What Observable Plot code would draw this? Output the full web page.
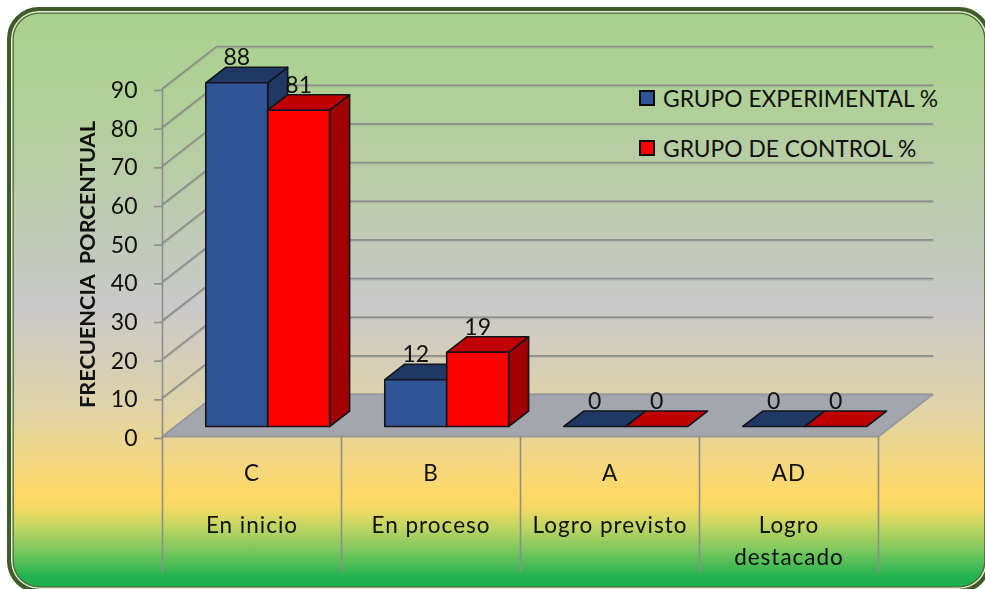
<!DOCTYPE html>
<html>
<head>
<meta charset="utf-8">
<script src="https://cdn.jsdelivr.net/npm/d3@7"></script>
<script src="https://cdn.jsdelivr.net/npm/@observablehq/plot@0.6"></script>
<style>
html,body{margin:0;padding:0;background:#fff;overflow:hidden;width:985px;height:589px}
body{position:relative;font-family:Lato,sans-serif;color:#111}
#box{position:absolute;left:7px;top:7px;width:984px;height:586px;box-sizing:border-box;border-radius:32px;
 border:4.5px solid #3f5b28;
 box-shadow:inset 0 0 0 1.5px #e4eedb,inset 0 0 0 2.8px #4d6b33;
 background:linear-gradient(180deg,#a9d18e 0px,#b0d097 90px,#bccbae 190px,#c9c9c9 295px,#dfd3aa 395px,#ffd966 484px,#f6d864 497px,#c4d662 515px,#7fc85f 538px,#22b24f 566px,#1db04e 578px)}
#chart{position:absolute;left:0;top:0}
#chart svg{background:transparent;overflow:visible;display:block;filter:blur(0.35px)}
.lg{position:absolute;left:638.5px;width:12px;height:12px;border:2px solid #0c0c0c}
.lt{position:absolute;left:663px;font-size:22.8px;line-height:26px;white-space:nowrap}
</style>
</head>
<body>
<div id="box"></div>
<div id="chart"></div>
<div class="lg" style="top:89.5px;background:#2f5597"></div>
<div class="lt" id="l0" style="top:85px"></div>
<div class="lg" style="top:139.5px;background:#ff0000"></div>
<div class="lt" id="l1" style="top:135px"></div>
<script>
const categories = ["C","B","A","AD"];
const categoryNames = [["En inicio"],["En proceso"],["Logro previsto"],["Logro","destacado"]];
const seriesNames = ["GRUPO EXPERIMENTAL %","GRUPO DE CONTROL %"];
const experimental = [88.9,12.1,0,0];
const control = [81.8,19.2,0,0];
const yTicks = [0,10,20,30,40,50,60,70,80,90];
const yLabel = "FRECUENCIA  PORCENTUAL";
const palette = [
  {front:"#2f5597",top:"#1f3864",side:"#1f3864"},
  {front:"#ff0000",top:"#c00000",side:"#a00000"}
];

document.getElementById("l0").textContent = seriesNames[0];
document.getElementById("l1").textContent = seriesNames[1];

// oblique projection, in data units
const wallX = 0.3017, wallY = 10.86;
const barFront = 0.238, barBack = 0.607;
const barStart = 0.17, barWidth = 0.346;
const px = (c,d)=>c+d*wallX;
const py = (v,d)=>v+d*wallY;

const grid = yTicks.flatMap(v=>[
  {id:v,x:0,y:v},
  {id:v,x:px(0,1),y:py(v,1)},
  {id:v,x:px(4,1),y:py(v,1)}
]);
const floor = [[0,0],[4,0],[px(4,1),wallY],[px(0,1),wallY],[0,0]].map(([x,y])=>({x,y}));
const separators = d3.range(0,5).flatMap(c=>[{id:c,x:c,y:0},{id:c,x:c,y:-35}]);

const bars = [experimental,control].flatMap((vals,s)=>vals.map((v,c)=>({c,s,v})));
const faces = [];
for (const b of bars) {
  const l = b.c+barStart+b.s*barWidth, r = l+barWidth;
  const p = palette[b.s];
  const add = (name,fill,pts)=>[...pts,pts[0]].forEach(([cx,v,d])=>faces.push({id:`${b.c}-${b.s}-${name}`,fill,x:px(cx,d),y:py(v,d)}));
  if (b.v>0) add("side",p.side,[[r,0,barFront],[r,0,barBack],[r,b.v,barBack],[r,b.v,barFront]]);
  add("top",p.top,[[l,b.v,barFront],[r,b.v,barFront],[r,b.v,barBack],[l,b.v,barBack]]);
  if (b.v>0) add("front",p.front,[[l,0,barFront],[r,0,barFront],[r,b.v,barFront],[l,b.v,barFront]]);
}
const labels = bars.map(b=>({x:px(b.c+barStart+(b.s+0.5)*barWidth,barFront),y:py(b.v,barFront),t:String(Math.trunc(b.v))}));
const catCodes = categories.map((t,i)=>({x:i+0.5,y:0,t}));
const catLines = categoryNames.flatMap((ls,i)=>ls.map((t,j)=>({x:i+0.5,y:0,t,j})));

const gridColor = "#8e8e8e";
const spaced = (i,s,v,d,c,next)=>{const g=next(i,s,v,d,c); g.style.letterSpacing="1px"; return g;};
const cat = {x:"x",y:"y",text:"t",fontSize:22.5,fill:"#111",render:spaced};
const fig = Plot.plot({
  width:985,height:589,
  marginLeft:162,marginRight:107,marginTop:88,marginBottom:153,
  x:{domain:[0,4],axis:null},
  y:{domain:[0,90],axis:null},
  color:{type:"identity"},
  style:{fontFamily:"Lato,sans-serif",background:"transparent",color:"#111"},
  marks:[
    Plot.line(grid.map(d=>({...d,y:d.y-0.18})),{x:"x",y:"y",z:"id",stroke:"#6f6f6f",strokeOpacity:0.25,strokeWidth:2.6,curve:"linear"}),
    Plot.line(grid,{x:"x",y:"y",z:"id",stroke:gridColor,strokeWidth:1.6,curve:"linear"}),
    Plot.ruleX([0],{y1:0,y2:90,stroke:gridColor,strokeWidth:1.6}),
    Plot.line(floor,{x:"x",y:"y",fill:"#a4a6ad",stroke:"#97989c",strokeWidth:1.8,curve:"linear"}),
    Plot.line(separators,{x:"x",y:"y",z:"id",stroke:gridColor,strokeWidth:1.6}),
    Plot.axisY({ticks:yTicks,tickSize:8,tickPadding:17,stroke:gridColor,fill:"#111",fontSize:23,label:null,strokeWidth:1.6,lineAnchor:"middle",dy:2}),
    Plot.line(faces,{x:"x",y:"y",z:"id",fill:"fill",stroke:"#14141c",strokeWidth:1.6,strokeLinejoin:"round",curve:"linear"}),
    Plot.text(labels,{x:"x",y:"y",text:"t",dy:-25,fontSize:23,fill:"#111"}),
    Plot.text(catCodes,{...cat,dy:37}),
    Plot.text(catLines.filter(d=>d.j===0),{...cat,dy:89.5}),
    Plot.text(catLines.filter(d=>d.j===1),{...cat,dy:121}),
    Plot.text([yLabel],{frameAnchor:"left",textAnchor:"middle",dx:-74,dy:2,rotate:-90,fontWeight:700,fontSize:21.7,fill:"#111"})
  ]
});
document.getElementById("chart").appendChild(fig);
</script>
</body>
</html>
